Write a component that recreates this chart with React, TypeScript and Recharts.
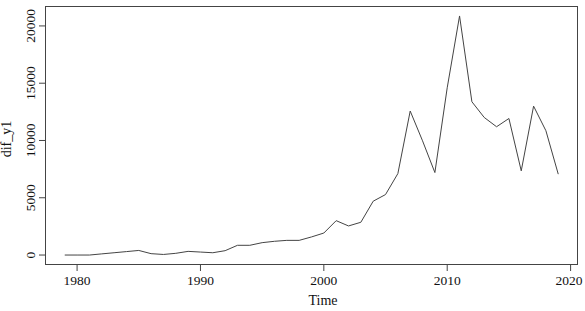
import { LineChart, Line, XAxis, YAxis } from "recharts";

// annual differences
const years = [
  1979, 1980, 1981, 1982, 1983, 1984, 1985, 1986, 1987, 1988,
  1989, 1990, 1991, 1992, 1993, 1994, 1995, 1996, 1997, 1998,
  1999, 2000, 2001, 2002, 2003, 2004, 2005, 2006, 2007, 2008,
  2009, 2010, 2011, 2012, 2013, 2014, 2015, 2016, 2017, 2018, 2019,
];
const difY1 = [
  0, 0, 0, 100, 200, 300, 400, 120, 50, 150,
  320, 260, 200, 380, 850, 850, 1080, 1200, 1280, 1280,
  1580, 1920, 3000, 2540, 2860, 4700, 5280, 7110, 12570, 9970,
  7200, 14600, 20870, 13380, 12010, 11200, 11920, 7350, 13000, 10850, 7060,
];
const xTicks = [1980, 1990, 2000, 2010, 2020];
const yTicks = [0, 5000, 10000, 15000, 20000];

const data = years.map((t, i) => ({ t, v: difY1[i] }));

const W = 585;
const H = 311;
const M = { top: 6, right: 7, left: 45, bottom: 46 };
const X_DOMAIN: [number, number] = [1977.4, 2020.6];
const Y_DOMAIN: [number, number] = [-870, 21740];
const FONT = "'Liberation Serif', 'Times New Roman', serif";
const INK = "#444";

const XTick = ({ x, payload }: any) => (
  <text x={x} y={285} textAnchor="middle" fontSize={13.5} fontFamily={FONT} fill="#111">
    {payload.value}
  </text>
);

const YTick = ({ y, payload }: any) => (
  <text
    x={35}
    y={y}
    transform={`rotate(-90, 35, ${y})`}
    textAnchor="middle"
    fontSize={13.5}
    fontFamily={FONT}
    fill="#111"
  >
    {payload.value}
  </text>
);

export default function App() {
  return (
    <div style={{ position: "absolute", left: 0, top: 0, background: "#fff" }}>
      <LineChart width={W} height={H} data={data} margin={{ top: M.top, right: M.right, left: 0, bottom: 0 }}>
        <XAxis
          dataKey="t"
          type="number"
          domain={X_DOMAIN}
          ticks={xTicks}
          height={M.bottom}
          axisLine={false}
          tickLine={{ stroke: INK }}
          tickSize={6}
          tick={<XTick />}
          allowDataOverflow
        />
        <YAxis
          type="number"
          domain={Y_DOMAIN}
          ticks={yTicks}
          width={M.left}
          axisLine={false}
          tickLine={{ stroke: INK }}
          tickSize={6}
          tick={<YTick />}
          allowDataOverflow
        />
        {/* plot box */}
        <rect
          x={M.left + 0.5}
          y={M.top + 0.5}
          width={W - M.left - M.right - 1}
          height={H - M.top - M.bottom - 1}
          fill="none"
          stroke={INK}
          strokeWidth={1}
        />
        <Line
          type="linear"
          dataKey="v"
          stroke={INK}
          strokeWidth={1}
          dot={false}
          isAnimationActive={false}
        />
        <text x={323} y={305} textAnchor="middle" fontSize={14} fontFamily={FONT} fill="#111">
          Time
        </text>
        <text
          x={11}
          y={139}
          transform="rotate(-90, 11, 139)"
          textAnchor="middle"
          fontSize={14}
          fontFamily={FONT}
          fill="#111"
        >
          dif_y1
        </text>
      </LineChart>
    </div>
  );
}
